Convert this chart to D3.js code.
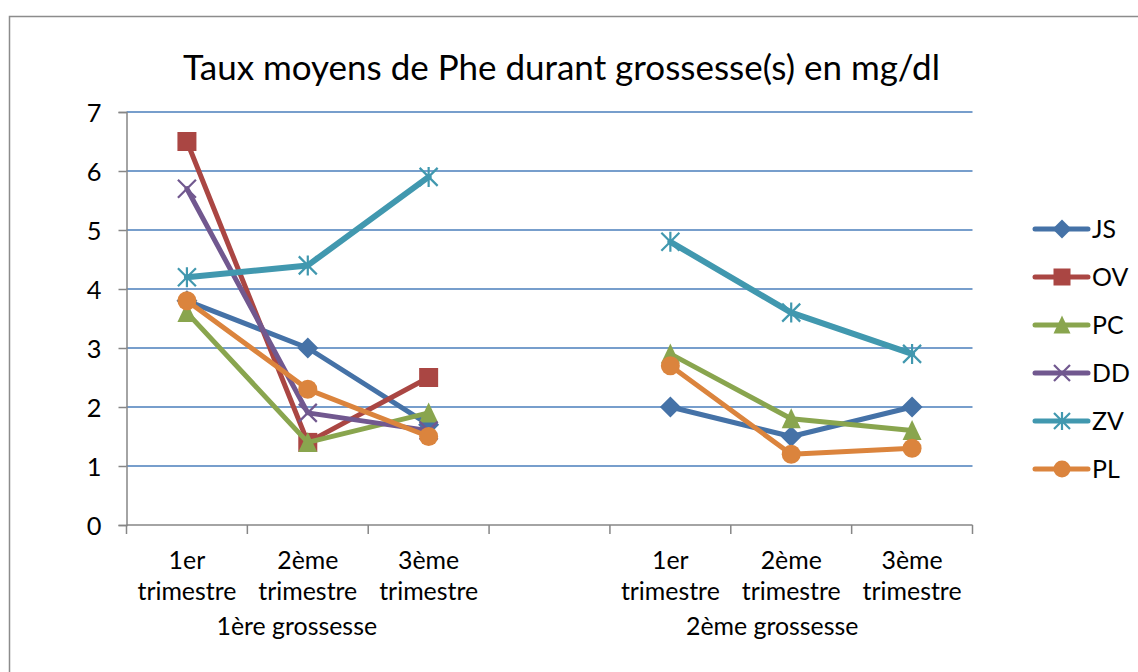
<!DOCTYPE html>
<html><head><meta charset="utf-8">
<script src="https://cdn.jsdelivr.net/npm/d3@7"></script>
<style>body{margin:0;background:#fff;} svg{display:block;font-family:Lato,"Open Sans","DejaVu Sans",sans-serif;}</style>
</head><body><svg id="c" width="1138" height="672"></svg>
<script>
const categories = ["1er|trimestre","2ème|trimestre","3ème|trimestre","","1er|trimestre","2ème|trimestre","3ème|trimestre"];
const groups = ["1ère grossesse","2ème grossesse"];
const yTicks = [0,1,2,3,4,5,6,7];
const seriesNames = ["JS","OV","PC","DD","ZV","PL"];
const JS = [3.8,3.0,1.7,null,2.0,1.5,2.0];
const OV = [6.5,1.4,2.5,null,null,null,null];
const PC = [3.6,1.4,1.9,null,2.9,1.8,1.6];
const DD = [5.7,1.9,1.6,null,null,null,null];
const ZV = [4.2,4.4,5.9,null,4.8,3.6,2.9];
const PL = [3.8,2.3,1.5,null,2.7,1.2,1.3];
const colors = ["#4572A7","#AA4643","#89A54E","#71588F","#4198AF","#DB843D"];
const markers = ["diamond","square","triangle","x","star","circle"];
const seriesValues = [JS,OV,PC,DD,ZV,PL];

const svg = d3.select("#c");
svg.append("rect").attr("x",9.5).attr("y",16.5).attr("width",1140).attr("height",700).attr("fill","#fff").attr("stroke","#8c8c8c").attr("stroke-width",1.5);

// fit a text element's font size so its width matches a target width
function fit(sel, target){
  sel.attr("font-size",20);
  const w = sel.node().getComputedTextLength();
  const fs = 20*target/w;
  sel.attr("font-size",fs);
  return fs;
}

const x = d3.scaleBand().domain(d3.range(categories.length)).range([126.5,972.5]).paddingInner(0).paddingOuter(0);
const y = d3.scaleLinear().domain([0,7]).range([525,112]);

// gridlines
svg.append("g").selectAll("line").data(yTicks.filter(d=>d>0)).join("line")
  .attr("x1",126.5).attr("x2",972.5).attr("y1",d=>y(d)).attr("y2",d=>y(d))
  .attr("stroke","#4A7EBB").attr("stroke-width",1.5);

// label font size from "trimestre" width
const probe = svg.append("text").text("trimestre");
const labFs = fit(probe, 99);
probe.remove();

// y axis
const yAx = svg.append("g").attr("transform","translate(126.5,0)").call(d3.axisLeft(y).tickValues(yTicks).tickSize(8).tickFormat(d3.format("d")));
yAx.select(".domain").attr("stroke","#868686").attr("stroke-width",1.5);
yAx.selectAll(".tick line").attr("stroke","#868686").attr("stroke-width",1.5);
yAx.selectAll(".tick text").attr("font-size",labFs*1.02).attr("fill","#000").attr("x",-25).attr("dy","0.36em")
  .style("font-family","Lato,'Open Sans',sans-serif");

// x axis
const xAx = svg.append("g").attr("transform","translate(0,525)");
xAx.append("line").attr("x1",126.5).attr("x2",972.5).attr("stroke","#868686").attr("stroke-width",1.5);
const bounds = d3.range(categories.length+1).map(i=> i<categories.length ? x(i) : x(i-1)+x.bandwidth());
xAx.selectAll("line.t").data(bounds).join("line").attr("class","t")
  .attr("x1",d=>d).attr("x2",d=>d).attr("y1",0).attr("y2",9).attr("stroke","#868686").attr("stroke-width",1.5);
categories.forEach((c,i)=>{
  if(!c) return;
  c.split("|").forEach((p,k)=>{
    svg.append("text").attr("x",x(i)+x.bandwidth()/2).attr("y",569+k*31).attr("text-anchor","middle")
      .attr("font-size",labFs).attr("fill","#000").text(p);
  });
});
const groupShift = [-11,-19];
groups.forEach((g,i)=>{
  const cx = (x(i*4)+x(i*4+2)+x.bandwidth())/2 + groupShift[i];
  svg.append("text").attr("x",cx).attr("y",635).attr("text-anchor","middle").attr("font-size",labFs).attr("fill","#000").text(g);
});

// title
const title = svg.append("text").attr("x",561.5).attr("y",80).attr("text-anchor","middle").attr("fill","#000")
  .text("Taux moyens de Phe durant grossesse(s) en mg/dl");
fit(title, 757);

function drawMarker(g,type,color,cx,cy,s){
  const h=s/2;
  if(type==="diamond") g.append("path").attr("d",`M${cx},${cy-h-1}L${cx+h+1},${cy}L${cx},${cy+h+1}L${cx-h-1},${cy}Z`).attr("fill",color);
  else if(type==="square") g.append("rect").attr("x",cx-h).attr("y",cy-h).attr("width",s).attr("height",s).attr("fill",color);
  else if(type==="triangle") g.append("path").attr("d",`M${cx},${cy-h-1}L${cx+h},${cy+h}L${cx-h},${cy+h}Z`).attr("fill",color);
  else if(type==="circle") g.append("circle").attr("cx",cx).attr("cy",cy).attr("r",h).attr("fill",color);
  else if(type==="x"){
    g.append("path").attr("d",`M${cx-h},${cy-h}L${cx+h},${cy+h}M${cx+h},${cy-h}L${cx-h},${cy+h}`).attr("stroke",color).attr("stroke-width",2.2);
  } else if(type==="star"){
    g.append("path").attr("d",`M${cx-h},${cy-h}L${cx+h},${cy+h}M${cx+h},${cy-h}L${cx-h},${cy+h}M${cx},${cy-h-1}L${cx},${cy+h+1}`).attr("stroke",color).attr("stroke-width",2.2);
  }
}

const line = d3.line().defined(d=>d.v!==null).x(d=>x(d.i)+x.bandwidth()/2).y(d=>y(d.v));
seriesValues.forEach((vals,si)=>{
  const g = svg.append("g");
  const pts = vals.map((v,i)=>({i,v}));
  g.append("path").datum(pts).attr("d",line).attr("fill","none").attr("stroke",colors[si])
    .attr("stroke-width",si===4?6:5).attr("stroke-linejoin","round").attr("stroke-linecap","round");
  pts.filter(p=>p.v!==null).forEach(p=>{
    drawMarker(g,markers[si],colors[si],x(p.i)+x.bandwidth()/2,y(p.v),si===3||si===4?18:19);
  });
});

// legend
const legY = d3.scaleLinear().domain([0,5]).range([229,469]);
seriesNames.forEach((n,i)=>{
  const ly = legY(i);
  const g = svg.append("g");
  g.append("line").attr("x1",1035).attr("x2",1088).attr("y1",ly).attr("y2",ly).attr("stroke",colors[i]).attr("stroke-width",5).attr("stroke-linecap","round");
  drawMarker(g,markers[i],colors[i],1062,ly,i===3||i===4?16:17);
  g.append("text").attr("x",1092).attr("y",ly).attr("dy","0.36em").attr("font-size",labFs).attr("fill","#000").text(n);
});
</script></body></html>
